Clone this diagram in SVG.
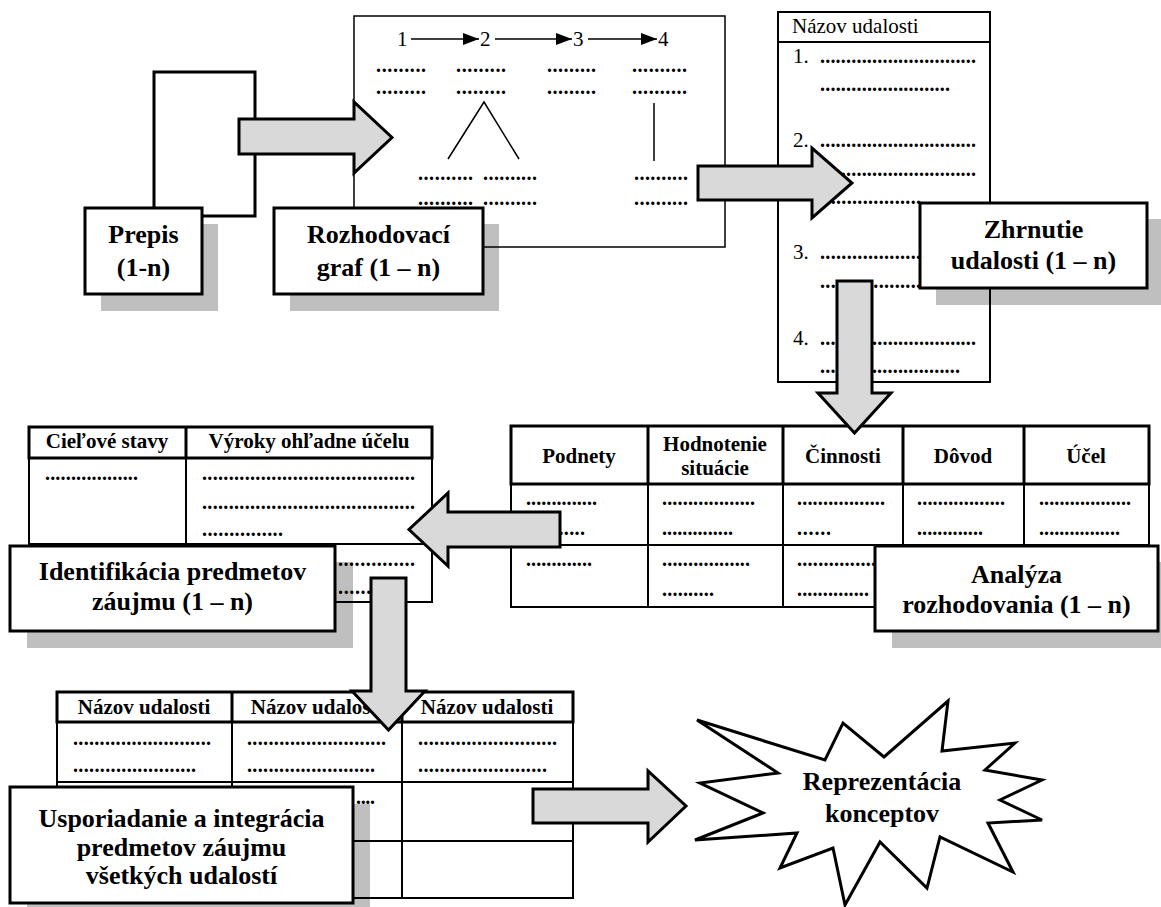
<svg xmlns="http://www.w3.org/2000/svg" width="1161" height="907" viewBox="0 0 1161 907">
<defs>
<style>
.bg{fill:#fff}
.box{fill:#fff;stroke:#000;stroke-width:3}
.shadow{fill:#bfbfbf}
.arrow{fill:#d9d9d9;stroke:#000;stroke-width:3;stroke-linejoin:miter}
.lbl{font-family:"Liberation Serif","Times New Roman",serif;font-weight:bold;font-size:26px;text-anchor:middle;fill:#000}
.th{font-family:"Liberation Serif","Times New Roman",serif;font-weight:bold;font-size:21px;text-anchor:middle;fill:#000}
.txt{font-family:"Liberation Serif","Times New Roman",serif;font-size:21px;fill:#000}
.dots{font-family:"Liberation Serif","Times New Roman",serif;font-weight:bold;font-size:20px;fill:#000}
.thick{fill:none;stroke:#000;stroke-width:3}
.thin{fill:none;stroke:#000;stroke-width:2}
.hair{fill:none;stroke:#000;stroke-width:1.5}
</style>
<marker id="ah" markerUnits="userSpaceOnUse" markerWidth="16" markerHeight="12" refX="16" refY="6" orient="auto">
<path d="M0,0 L16,6 L0,12 z" fill="#000"/>
</marker>
</defs>
<rect class="bg" x="0" y="0" width="1161" height="907"/>

<g id="shadows">
<rect class="shadow" x="101" y="224" width="117" height="87"/>
<rect class="shadow" x="290" y="224" width="209" height="87"/>
<rect class="shadow" x="936" y="219" width="227" height="86"/>
<rect class="shadow" x="892" y="562" width="270" height="86"/>
<rect class="shadow" x="27" y="562" width="326" height="86"/>
<rect class="shadow" x="27" y="804" width="343" height="116"/>
</g>

<g id="prepis-doc">
<rect class="thick" x="154" y="72" width="101" height="144"/>
</g>

<g id="graf-doc">
<rect class="hair" x="354" y="16" width="371" height="231"/>
<text class="txt" x="397" y="46">1</text>
<text class="txt" x="480" y="46">2</text>
<text class="txt" x="573" y="46">3</text>
<text class="txt" x="658" y="46">4</text>
<line class="hair" x1="411" y1="39" x2="479" y2="39" marker-end="url(#ah)"/>
<line class="hair" x1="495" y1="39" x2="572" y2="39" marker-end="url(#ah)"/>
<line class="hair" x1="588" y1="39" x2="657" y2="39" marker-end="url(#ah)"/>
<text class="dots" x="376" y="72" textLength="50">.........</text>
<text class="dots" x="456" y="72" textLength="50">.........</text>
<text class="dots" x="547" y="72" textLength="49">.........</text>
<text class="dots" x="632" y="72" textLength="55">..........</text>
<text class="dots" x="376" y="94" textLength="50">.........</text>
<text class="dots" x="456" y="94" textLength="50">.........</text>
<text class="dots" x="547" y="94" textLength="49">.........</text>
<text class="dots" x="632" y="94" textLength="55">..........</text>
<polyline class="hair" points="448,159 484,102 519,159"/>
<line class="hair" x1="654" y1="103" x2="654" y2="161"/>
<text class="dots" x="418" y="180" textLength="55">..........</text>
<text class="dots" x="483" y="180" textLength="54">..........</text>
<text class="dots" x="634" y="180" textLength="54">..........</text>
<text class="dots" x="418" y="205" textLength="55">..........</text>
<text class="dots" x="483" y="205" textLength="54">..........</text>
<text class="dots" x="634" y="205" textLength="54">..........</text>
</g>

<g id="zhrnutie-doc">
<rect class="thin" x="778" y="12" width="212" height="370"/>
<line class="thin" x1="778" y1="42" x2="990" y2="42"/>
<text class="txt" x="792" y="33">Názov udalosti</text>
<text class="txt" x="793" y="63">1.</text>
<text class="dots" x="820" y="63" textLength="156">..............................</text>
<text class="dots" x="820" y="91" textLength="130">.........................</text>
<text class="txt" x="793" y="147">2.</text>
<text class="dots" x="820" y="147" textLength="156">..............................</text>
<text class="dots" x="820" y="176" textLength="156">..............................</text>
<text class="dots" x="820" y="204" textLength="101">...................</text>
<text class="txt" x="793" y="259">3.</text>
<text class="dots" x="820" y="259" textLength="101">...................</text>
<text class="dots" x="820" y="288" textLength="101">...................</text>
<text class="txt" x="793" y="345">4.</text>
<text class="dots" x="820" y="345" textLength="156">..............................</text>
<text class="dots" x="820" y="373" textLength="140">...........................</text>
</g>

<g id="analyza-table">
<rect class="thick" x="511" y="426" width="638" height="58"/>
<line class="thick" x1="648" y1="426" x2="648" y2="484"/>
<line class="thick" x1="783" y1="426" x2="783" y2="484"/>
<line class="thick" x1="903" y1="426" x2="903" y2="484"/>
<line class="thick" x1="1024" y1="426" x2="1024" y2="484"/>
<polyline class="thin" points="511,484 511,607 1149,607 1149,484"/>
<line class="thin" x1="511" y1="545" x2="1149" y2="545"/>
<line class="thin" x1="648" y1="484" x2="648" y2="607"/>
<line class="thin" x1="783" y1="484" x2="783" y2="607"/>
<line class="thin" x1="903" y1="484" x2="903" y2="607"/>
<line class="thin" x1="1024" y1="484" x2="1024" y2="607"/>
<text class="th" x="579" y="463">Podnety</text>
<text class="th" x="715" y="451">Hodnotenie</text>
<text class="th" x="715" y="475">situácie</text>
<text class="th" x="843" y="463">Činnosti</text>
<text class="th" x="963" y="463">Dôvod</text>
<text class="th" x="1086" y="463">Účel</text>
<text class="dots" x="526" y="505" textLength="71">..............</text>
<text class="dots" x="526" y="535" textLength="59">...........</text>
<text class="dots" x="662" y="505" textLength="93">..................</text>
<text class="dots" x="662" y="535" textLength="71">..............</text>
<text class="dots" x="797" y="505" textLength="88">.................</text>
<text class="dots" x="797" y="535" textLength="34">......</text>
<text class="dots" x="917" y="505" textLength="88">.................</text>
<text class="dots" x="917" y="535" textLength="66">.............</text>
<text class="dots" x="1039" y="505" textLength="92">..................</text>
<text class="dots" x="1039" y="535" textLength="81">................</text>
<text class="dots" x="526" y="566" textLength="66">.............</text>
<text class="dots" x="662" y="566" textLength="88">.................</text>
<text class="dots" x="662" y="596" textLength="52">..........</text>
<text class="dots" x="797" y="566" textLength="79">...............</text>
<text class="dots" x="797" y="596" textLength="72">..............</text>
</g>

<g id="identifikacia-table">
<rect class="thick" x="29" y="427" width="403" height="31"/>
<line class="thick" x1="186" y1="427" x2="186" y2="458"/>
<polyline class="thin" points="29,458 29,602 432,602 432,458"/>
<line class="thin" x1="29" y1="544" x2="432" y2="544"/>
<line class="thin" x1="186" y1="458" x2="186" y2="602"/>
<text class="th" x="107" y="448">Cieľové stavy</text>
<text class="th" x="309" y="448">Výroky ohľadne účelu</text>
<text class="dots" x="45" y="480" textLength="93">..................</text>
<text class="dots" x="202" y="480" textLength="213">........................................</text>
<text class="dots" x="202" y="509" textLength="213">........................................</text>
<text class="dots" x="202" y="536" textLength="81">...............</text>
<text class="dots" x="338" y="566" textLength="77">..............</text>
<text class="dots" x="338" y="594" textLength="50">.........</text>
</g>

<g id="usporiadanie-table">
<rect class="thick" x="57" y="692" width="516" height="30"/>
<line class="thick" x1="232" y1="692" x2="232" y2="722"/>
<line class="thick" x1="402" y1="692" x2="402" y2="722"/>
<polyline class="thin" points="57,722 57,898 573,898 573,722"/>
<line class="thin" x1="57" y1="782" x2="573" y2="782"/>
<line class="thin" x1="57" y1="841" x2="573" y2="841"/>
<line class="thin" x1="232" y1="722" x2="232" y2="898"/>
<line class="thin" x1="402" y1="722" x2="402" y2="898"/>
<text class="th" x="144" y="714">Názov udalosti</text>
<text class="th" x="317" y="714">Názov udalosti</text>
<text class="th" x="487" y="714">Názov udalosti</text>
<text class="dots" x="73" y="745" textLength="138">..........................</text>
<text class="dots" x="73" y="772" textLength="123">.......................</text>
<text class="dots" x="247" y="745" textLength="139">..........................</text>
<text class="dots" x="247" y="772" textLength="128">........................</text>
<text class="dots" x="418" y="745" textLength="139">..........................</text>
<text class="dots" x="418" y="772" textLength="129">........................</text>
<text class="dots" x="356" y="804" textLength="19">....</text>
</g>

<g id="connectors">
<polygon class="arrow" points="239,119 354,119 354,102 392,137.5 354,173 354,154 239,154"/>
<polygon class="arrow" points="698,166 812,166 812,148 852,183 812,218 812,200 698,200"/>
<polygon class="arrow" points="837,281 872,281 872,393 891,393 854.5,433 818,393 837,393"/>
<polygon class="arrow" points="560,512 448,512 448,493 409,529.5 448,566 448,547 560,547"/>
<polygon class="arrow" points="371,578 406,578 406,691 425,691 388.5,730 352,691 371,691"/>
<polygon class="arrow" points="533,789 648,789 648,771 686,806 648,842 648,823 533,823"/>
</g>

<g id="prepis">
<rect class="box" x="85" y="208" width="117" height="86"/>
<text class="lbl" x="143.5" y="243">Prepis</text>
<text class="lbl" x="143.5" y="276">(1-n)</text>
</g>

<g id="rozhodovaci-graf">
<rect class="box" x="274" y="208" width="209" height="86"/>
<text class="lbl" x="378.5" y="243">Rozhodovací</text>
<text class="lbl" x="378.5" y="276">graf (1 – n)</text>
</g>

<g id="zhrnutie">
<rect class="box" x="920" y="203" width="227" height="85"/>
<text class="lbl" x="1033.5" y="238">Zhrnutie</text>
<text class="lbl" x="1033.5" y="269">udalosti (1 – n)</text>
</g>

<g id="analyza">
<rect class="box" x="875" y="546" width="283" height="85"/>
<text class="lbl" x="1016.5" y="583">Analýza</text>
<text class="lbl" x="1016.5" y="613">rozhodovania (1 – n)</text>
</g>

<g id="identifikacia">
<rect class="box" x="10" y="546" width="325" height="85"/>
<text class="lbl" x="172.5" y="580">Identifikácia predmetov</text>
<text class="lbl" x="172.5" y="610">záujmu (1 – n)</text>
</g>

<g id="usporiadanie">
<rect class="box" x="10" y="787" width="343" height="116"/>
<text class="lbl" x="181.5" y="827">Usporiadanie a integrácia</text>
<text class="lbl" x="181.5" y="856">predmetov záujmu</text>
<text class="lbl" x="181.5" y="884">všetkých udalostí</text>
</g>

<g id="reprezentacia">
<polygon class="box" points="697,720 825,760 843,723 884,757 948,701 942,751 1015,743 985,770 1042,780 1000,800 1042,820 988,823 1013,872 940,837 927,888 880,842 845,905 833,848 780,868 797,833 695,840 763,813 700,783 778,773"/>
<text class="lbl" x="882" y="790">Reprezentácia</text>
<text class="lbl" x="882" y="822">konceptov</text>
</g>
</svg>
